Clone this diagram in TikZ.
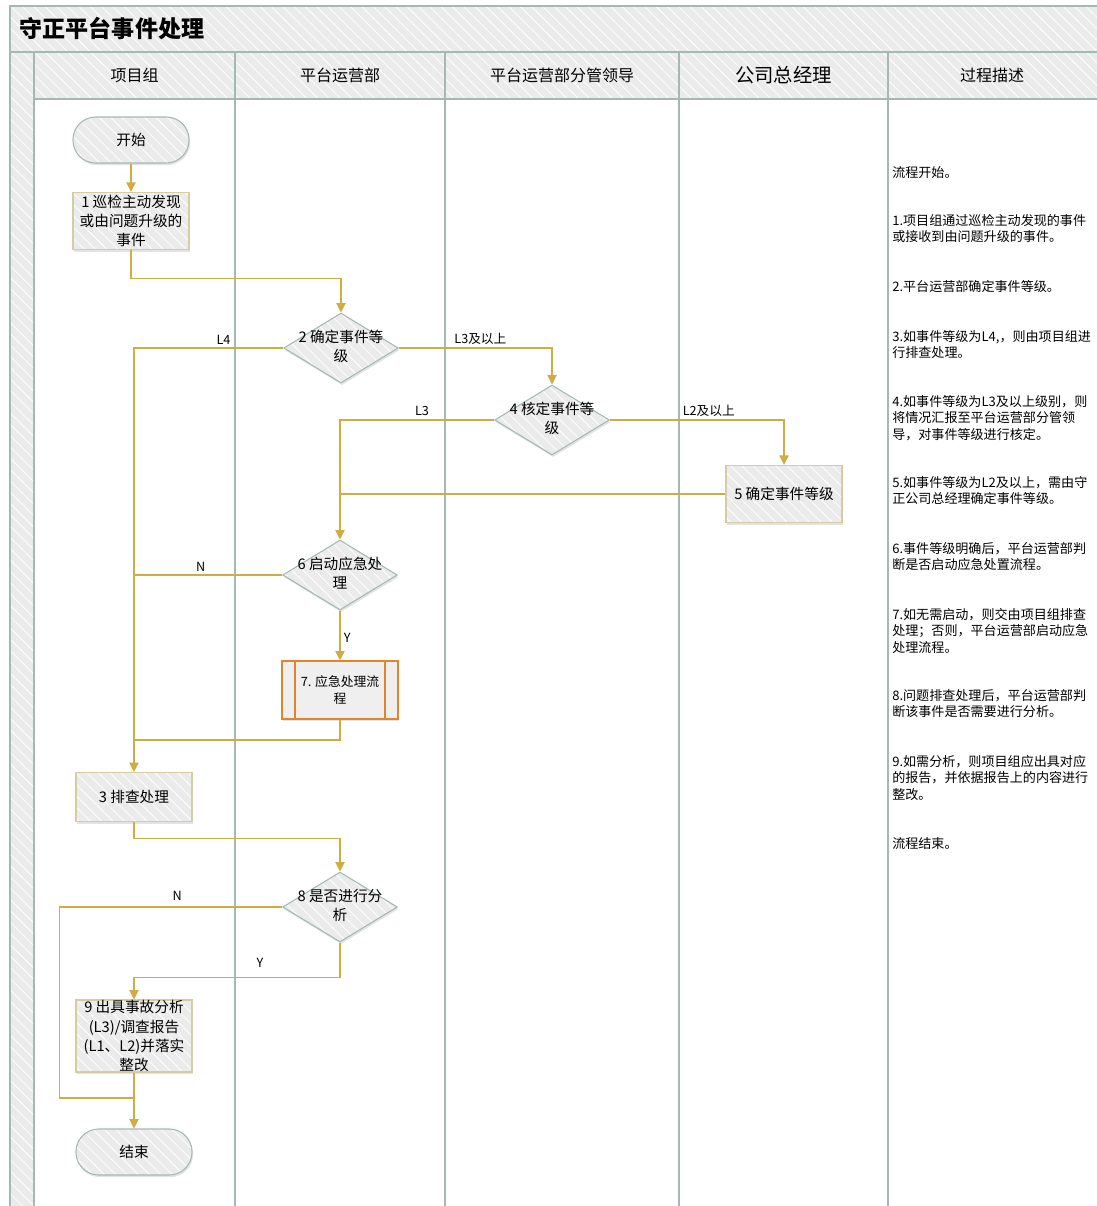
\documentclass[tikz,border=0pt]{standalone}
\usepackage{fontspec}
\setmainfont{Noto Sans CJK SC}
\usetikzlibrary{math,shapes.geometric,arrows.meta,patterns.meta,shadows}
\definecolor{lanegray}{HTML}{A5B9B1}
\definecolor{cellgray}{HTML}{EBEBEB}
\definecolor{flowgold}{HTML}{D0AC45}
\definecolor{boxtan}{HTML}{D6CCA2}
\definecolor{suborange}{HTML}{E0852B}
\newcommand{\diamondtext}[1]{\makebox[0pt]{\begin{tabular}{@{}c@{}}#1\end{tabular}}}
\tikzset{
  shaded/.style={drop shadow={shadow xshift=0.8pt, shadow yshift=-1.6pt, opacity=0.22}},
  hatched/.style={preaction={fill=cellgray}, pattern={Lines[angle=-45,distance=6pt,line width=0.6pt]}, pattern color=white},
  boxfont/.style={font=\fontsize{11pt}{14.3pt}\selectfont},
  terminal/.style={shaded, hatched, boxfont, draw=lanegray, line width=0.8pt, rounded corners=17pt, minimum width=87pt, minimum height=34.5pt},
  procbox/.style={shaded, hatched, boxfont, draw=boxtan, line width=0.8pt, minimum width=87pt, minimum height=43pt, align=center, inner sep=1pt},
  decision/.style={shaded, hatched, boxfont, draw=lanegray, line width=0.8pt, diamond, inner sep=0pt, minimum width=86pt, minimum height=52.5pt},
  subproc/.style={shaded, fill=cellgray!80, font=\fontsize{9.6pt}{13pt}\selectfont, draw=suborange, line width=1.4pt, minimum width=87pt, minimum height=43pt, align=center, inner sep=1pt},
  flow/.style={draw=flowgold, line width=0.8pt, -{Triangle[width=7pt,length=7pt]}},
  joinline/.style={draw=flowgold, line width=0.8pt},
  flowlabel/.style={font=\fontsize{9.5pt}{11pt}\selectfont, inner sep=2.5pt},
  desc/.style={font=\fontsize{9.8pt}{12.4pt}\selectfont, align=left, anchor=north west, inner sep=0pt},
  lane/.style={draw=lanegray, line width=1.2pt},
  lanehead/.style={font=\fontsize{12pt}{14pt}\selectfont}
}
\begin{document}
\begin{tikzpicture}[x=0.75pt,y=-0.75pt]
    \tikzmath{\laneA = 34; \laneB = 235; \laneC = 445; \laneD = 679; \laneE = 888; \pagew = 1096; \pageh = 1206;}
    \useasboundingbox (0,0) rectangle (\pagew,\pageh);
    \path[hatched] (10,6) rectangle (\pagew+5,52);
    \path[hatched] (10,52) rectangle (\laneA,\pageh+5);
    \path[hatched] (\laneA,52) rectangle (\pagew+5,99);
    \draw[lane] (\pagew+5,6) -- (10,6) -- (10,\pageh+5);
    \draw[lane] (10,52) -- (\pagew+5,52);
    \draw[lane] (\laneA,99) -- (\pagew+5,99);
    \foreach \x in {\laneA,\laneB,\laneC,\laneD,\laneE} \draw[lane] (\x,52) -- (\x,\pageh+5);
    \node[anchor=west, font=\fontsize{17.3pt}{20pt}\selectfont\bfseries] (title) at (15,29) {守正平台事件处理};
    \node[lanehead] (headA) at ({(\laneA+\laneB)/2},75) {项目组};
    \node[lanehead] (headB) at ({(\laneB+\laneC)/2},75) {平台运营部};
    \node[lanehead] (headC) at ({(\laneC+\laneD)/2},75) {平台运营部分管领导};
    \node[lanehead, font=\fontsize{14.5pt}{17pt}\selectfont] (headD) at ({(\laneD+\laneE)/2},75) {公司总经理};
    \node[lanehead] (headE) at ({(\laneE+\pagew)/2},75) {过程描述};

    \node[terminal] (start) at (131,140) {开始};
    \node[procbox] (n1) at (131,221) {1 巡检主动发现\\或由问题升级的\\事件};
    \node[decision] (n2) at (341,348) {\diamondtext{2 确定事件等\\级}};
    \node[decision] (n4) at (552,420) {\diamondtext{4 核定事件等\\级}};
    \node[procbox] (n5) at (784,494) {5 确定事件等级};
    \node[decision] (n6) at (340,575) {\diamondtext{6 启动应急处\\理}};
    \node[subproc] (n7) at (340,690) {7. 应急处理流\\程};
    \draw[suborange, line width=1.2pt] ([xshift=10.5pt]n7.north west) -- ([xshift=10.5pt]n7.south west);
    \draw[suborange, line width=1.2pt] ([xshift=-10.5pt]n7.north east) -- ([xshift=-10.5pt]n7.south east);
    \node[procbox, minimum height=36.8pt] (n3) at (134,797) {3 排查处理};
    \node[decision] (n8) at (340,907) {\diamondtext{8 是否进行分\\析}};
    \node[procbox, minimum height=54pt, inner ysep=0pt] (n9) at (134,1036) {9 出具事故分析\\(L3)/调查报告\\(L1、L2)并落实\\整改};
    \node[terminal] (stop) at (134,1152) {结束};
    \coordinate (m7) at (134,740);
    \coordinate (m8) at (134,1098);

    \draw[flow] (start) -- (n1);
    \draw[flow] (n1.south) -- ++(0,28) -| (n2.north);
    \draw[flow] (n2.west) -| node[flowlabel, above, pos=0.2] {L4} (n3.north);
    \draw[flow] (n2.east) -| node[flowlabel, above, pos=0.266] {L3及以上} (n4.north);
    \draw[flow] (n4.west) -| node[flowlabel, above, pos=0.234] {L3} (n6.north);
    \draw[flow] (n4.east) -| node[flowlabel, above, pos=0.284] {L2及以上} (n5.north);
    \draw[joinline] (n5.west) -- (n5.west -| n6.north);
    \draw[joinline] (n6.west) -- node[flowlabel, above, pos=0.55] {N} (n6.west -| n3.north);
    \draw[flow] (n6.south) -- node[flowlabel, right, pos=0.55] {Y} (n7.north);
    \draw[joinline] (n7.south) |- (m7);
    \draw[flow] (n3.south) -- ++(0,16) -| (n8.north);
    \draw[joinline] (n8.west) -- node[flowlabel, above, pos=0.47, yshift=2.2pt] {N} ++(-223,0) |- (m8);
    \draw[flow] (n8.south) -- ++(0,35) -| node[flowlabel, above, pos=0.194, yshift=4.5pt] {Y} (n9.north);
    \draw[flow] (n9) -- (stop);

    \node[desc] (d0) at (892,166) {流程开始。};
    \node[desc] (d1) at (892,214) {1.项目组通过巡检主动发现的事件\\或接收到由问题升级的事件。};
    \node[desc] (d2) at (892,280) {2.平台运营部确定事件等级。};
    \node[desc] (d3) at (892,330) {3.如事件等级为L4,，则由项目组进\\行排查处理。};
    \node[desc] (d4) at (892,395) {4.如事件等级为L3及以上级别，则\\将情况汇报至平台运营部分管领\\导，对事件等级进行核定。};
    \node[desc] (d5) at (892,476) {5.如事件等级为L2及以上，需由守\\正公司总经理确定事件等级。};
    \node[desc] (d6) at (892,542) {6.事件等级明确后，平台运营部判\\断是否启动应急处置流程。};
    \node[desc] (d7) at (892,608) {7.如无需启动，则交由项目组排查\\处理；否则，平台运营部启动应急\\处理流程。};
    \node[desc] (d8) at (892,689) {8.问题排查处理后，平台运营部判\\断该事件是否需要进行分析。};
    \node[desc] (d9) at (892,755) {9.如需分析，则项目组应出具对应\\的报告，并依据报告上的内容进行\\整改。};
    \node[desc] (d10) at (892,837) {流程结束。};
\end{tikzpicture}
\end{document}
